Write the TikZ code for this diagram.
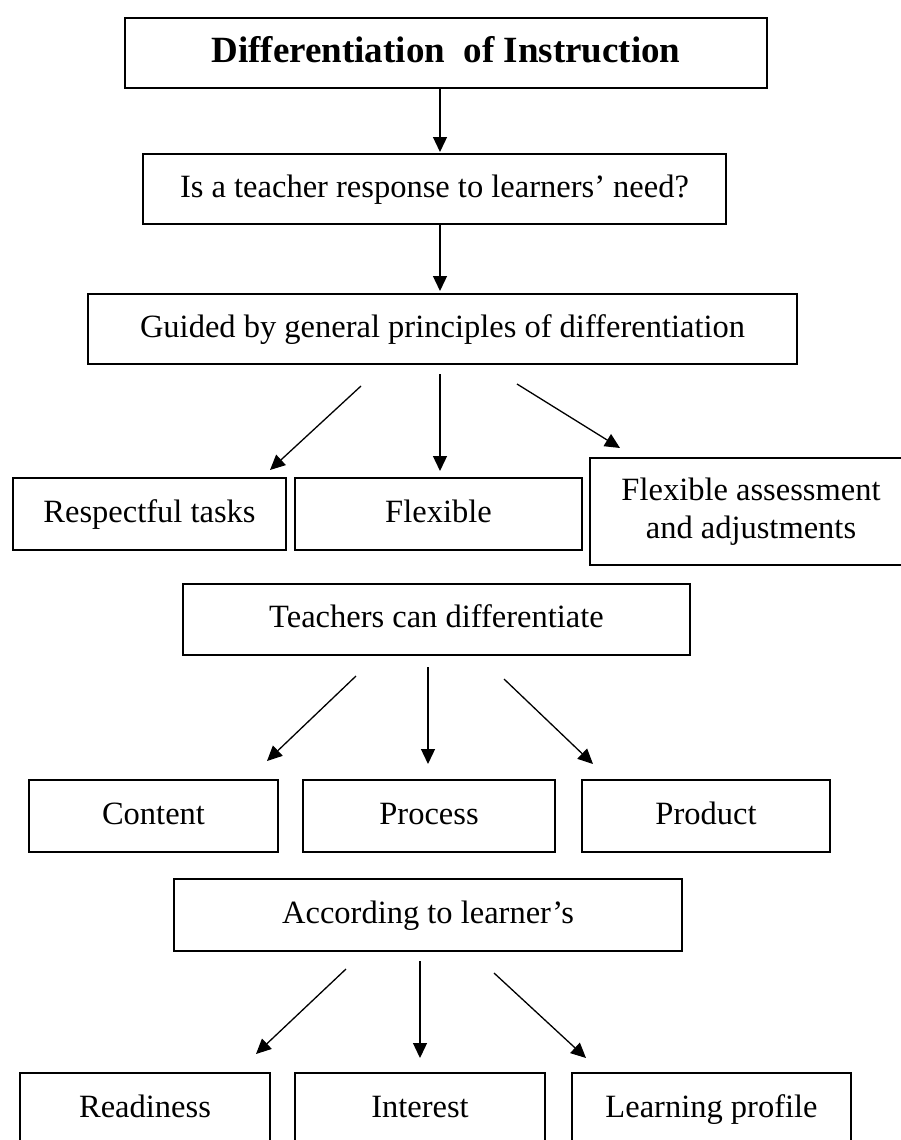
\documentclass[tikz,border=0pt]{standalone}
\usepackage{fontspec}
\setmainfont{Liberation Serif}
\usetikzlibrary{arrows.meta}
\tikzset{
  box/.style={draw, line width=2.6pt, inner sep=0pt, font=\fontsize{32.5}{38}\selectfont,
    align=center, text height=22.75pt, text depth=6.5pt},
  twoline/.style={text height=60.75pt},
  titlebox/.style={box, font=\fontsize{37}{40}\selectfont\bfseries, text height=25.9pt, text depth=7.4pt},
  conn/.style={line width=1.3pt, -{Triangle[length=15pt,width=14pt]}},
}
\newcommand{\bx}[7][]{% style, name, x1,y1,x2,y2, text
  \node[box, #1, minimum width={#5-#3}, minimum height={#6-#4}] (#2) at ({(#3+#5)/2},{(#4+#6)/2}) {#7};}
\begin{document}
\begin{tikzpicture}[x=1pt,y=-1pt]
\useasboundingbox (0,0) rectangle (901,1140);
\clip (0,0) rectangle (901,1140);
\fill[white] (0,0) rectangle (901,1140);
\bx[titlebox]{title}{125}{18}{767}{88}{Differentiation\ \ of Instruction}
\bx{q}{143}{154}{726}{224}{Is a teacher response to learners’ need?}
\bx{guided}{88}{294}{797}{364}{Guided by general principles of differentiation}
\bx{resp}{13}{478}{286}{550}{Respectful tasks}
\bx{flex}{295}{478}{582}{550}{Flexible}
\bx[twoline]{flexass}{590}{458}{912}{565}{Flexible assessment\\and adjustments}
\bx{teach}{183}{584}{690}{655}{Teachers can differentiate}
\bx{content}{29}{780}{278}{852}{Content}
\bx{process}{303}{780}{555}{852}{Process}
\bx{product}{582}{780}{830}{852}{Product}
\bx{accord}{174}{879}{682}{951}{According to learner’s}
\bx{ready}{20}{1073}{270}{1146}{Readiness}
\bx{interest}{295}{1073}{545}{1146}{Interest}
\bx{lprof}{572}{1073}{851}{1146}{Learning profile}
% arrow endpoints
\coordinate (a1e) at (440,152);
\coordinate (a2e) at (440,291);
\coordinate (g1s) at (361,386);  \coordinate (g1e) at (270,470);
\coordinate (g2s) at (440,374);  \coordinate (g2e) at (440,471);
\coordinate (g3s) at (517,384);  \coordinate (g3e) at (620,448);
\coordinate (t1s) at (356,676);  \coordinate (t1e) at (267,761);
\coordinate (t2s) at (428,667);  \coordinate (t2e) at (428,764);
\coordinate (t3s) at (504,679);  \coordinate (t3e) at (593,764);
\coordinate (c1s) at (346,969);  \coordinate (c1e) at (256,1054);
\coordinate (c2s) at (420,961);  \coordinate (c2e) at (420,1058);
\coordinate (c3s) at (494,973);  \coordinate (c3e) at (586,1058);
\draw[conn] (title.south -| a1e) -- (a1e);
\draw[conn] (q.south -| a2e) -- (a2e);
\draw[conn] (g1s) -- (g1e);
\draw[conn] (g2s) -- (g2e);
\draw[conn] (g3s) -- (g3e);
\draw[conn] (t1s) -- (t1e);
\draw[conn] (t2s) -- (t2e);
\draw[conn] (t3s) -- (t3e);
\draw[conn] (c1s) -- (c1e);
\draw[conn] (c2s) -- (c2e);
\draw[conn] (c3s) -- (c3e);
\end{tikzpicture}
\end{document}
